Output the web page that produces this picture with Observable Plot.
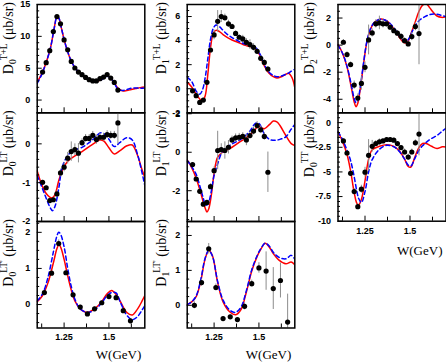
<!DOCTYPE html>
<html><head><meta charset="utf-8">
<script src="https://cdn.jsdelivr.net/npm/d3@7"></script>
<script src="https://cdn.jsdelivr.net/npm/@observablehq/plot@0.6"></script>
<style>
body{margin:0;background:#fff;}
#c{position:relative;width:446px;height:363px;overflow:hidden;background:#fff;}
#c svg{position:absolute;left:0;top:0;overflow:visible;}
</style></head><body><div id="c"></div>
<script>
// ---- data points (W in GeV) ----
const W_pts = [1.13,1.15,1.17,1.19,1.21,1.23,1.25,1.27,1.29,1.31,1.33,1.35,1.37,1.39,1.41,1.43,1.45,1.47,1.49,1.51,1.53,1.55];
const W_ltp0 = [1.14,1.18,1.22,1.26,1.30,1.34,1.38,1.42,1.46,1.50,1.54,1.58,1.62];
const W_ltp1 = [1.14,1.18,1.22,1.26,1.30,1.34,1.38,1.42,1.46,1.50,1.54,1.58,1.62,1.66];

const D0TL_pts = [4.4,5.87,7.75,10.75,13.1,11.96,9.44,7.9,6.07,5.03,4.4,3.98,3.55,3.2,3.0,3.0,3.35,3.6,4.0,3.45,2.77,1.57];
const D0TL_err = [0.1,0.1,0.1,0.1,0.1,0.1,0.1,0.1,0.1,0.1,0.1,0.1,0.1,0.1,0.1,0.1,0.1,0.1,0.1,0.1,0.1,0.1];
const D1TL_pts = [-0.17,-0.58,-1.14,-0.94,0.53,3.22,4.47,5.6,6.0,5.9,5.39,5.17,4.6,4.28,4.14,3.86,3.67,3.44,3.11,2.53,2.19,1.64];
const D1TL_err = [0.1,0.1,0.1,0.1,0.15,0.2,0.4,0.9,0.5,0.3,0.3,0.2,0.2,0.2,0.3,0.3,0.4,0.3,0.2,0.2,0.2,0.2];
const D2TL_pts = [0.21,-0.7,-1.44,-2.95,-3.91,-2.83,-1.64,0.38,0.9,1.57,1.64,1.57,1.57,1.32,1.07,0.88,0.65,0.33,0.09,0.63,1.37,0.85];
const D2TL_err = [0.2,0.2,0.2,0.3,0.3,0.5,0.4,1.1,0.3,0.3,0.5,0.3,0.2,0.2,0.2,0.2,0.2,0.2,0.2,0.3,0.3,2.3];
const D0LT_pts = [-0.99,-1.13,-1.46,-1.44,-1.29,-0.75,-0.6,-0.37,-0.2,-0.15,-0.24,0.03,0.14,0.14,0.22,0.11,0.17,0.17,0.24,0.22,0.22,0.54];
const D0LT_err = [0.05,0.05,0.05,0.05,0.08,0.1,0.12,0.15,0.25,0.15,0.25,0.1,0.1,0.1,0.1,0.12,0.1,0.1,0.1,0.1,0.1,0.55];
const D1LT_pts = [-0.64,-1.39,-2.03,-2.7,-2.61,-1.79,-0.96,0.09,0.14,0.09,0.26,0.64,0.75,0.78,0.82,0.64,0.87,1.1,1.39,1.17,0.82,-1.04];
const D1LT_err = [0.1,0.1,0.1,0.1,0.1,0.15,0.2,1.0,0.3,0.45,0.35,0.2,0.2,0.2,0.2,0.3,0.2,0.2,0.2,0.2,0.2,1.05];
const D0TT_pts = [-1.85,-3.08,-5.14,-6.99,-8.53,-6.75,-5.03,-3.32,-2.4,-2.12,-1.95,-1.85,-1.71,-1.71,-1.78,-2.12,-2.53,-2.98,-3.49,-2.98,-2.05,-1.16];
const D0TT_err = [0.2,0.2,0.2,0.3,0.3,0.4,0.5,1.6,0.6,0.3,0.3,0.2,0.2,0.2,0.2,0.2,0.2,0.3,0.3,0.3,0.3,2.2];
const D0LTp_pts = [0.33,0.87,1.69,0.88,0.27,-0.07,-0.26,-0.12,0.05,0.22,0.19,-0.17,-0.45];
const D0LTp_err = [0.05,0.05,0.1,0.05,0.05,0.05,0.05,0.05,0.05,0.05,0.05,0.05,0.05];
const D1LTp_pts = [0.0,0.65,1.62,0.51,-0.38,-0.33,-0.41,-0.03,0.62,1.07,0.98,0.48,0.71,-0.48];
const D1LTp_err = [0.1,0.1,0.15,0.1,0.05,0.05,0.05,0.1,0.1,0.15,0.55,0.6,0.5,0.8];

// ---- model curves (knots in W, red = solid, blue = dashed) ----
const D0TL_cW = [1.10,1.125,1.15,1.175,1.195,1.21,1.22,1.235,1.25,1.27,1.29,1.31,1.33,1.35,1.375,1.40,1.425,1.45,1.475,1.49,1.505,1.525,1.55,1.575,1.60,1.625,1.65,1.675,1.70];
const D0TL_red = [2.8,4.1,5.9,8.3,11.3,13.1,12.9,11.3,9.5,7.6,6.1,5.1,4.45,3.95,3.45,3.1,2.95,3.1,3.55,3.8,3.6,2.9,1.9,1.45,1.5,1.65,1.8,1.95,2.05];
const D0TL_blue = [2.6,4.0,5.9,8.3,11.3,13.0,12.9,11.3,9.5,7.6,6.1,5.1,4.45,3.95,3.45,3.1,2.95,3.1,3.5,3.75,3.6,2.9,1.75,1.5,1.65,1.85,1.9,1.85,1.9];

const D1TL_cW = [1.10,1.125,1.15,1.17,1.185,1.20,1.215,1.23,1.245,1.26,1.28,1.30,1.325,1.35,1.375,1.40,1.425,1.45,1.475,1.49,1.51,1.53,1.555,1.58,1.60,1.625,1.65,1.665,1.685,1.70];
const D1TL_red = [0.55,0.15,-0.45,-0.85,-1.0,-0.6,1.2,3.4,4.6,4.85,4.75,4.5,4.25,4.05,3.9,3.75,3.6,3.5,3.4,3.2,2.6,1.9,1.3,1.0,0.9,1.0,1.2,1.28,0.9,0.1];
const D1TL_blue = [0.95,0.6,-0.2,-0.45,-0.1,0.9,2.5,4.1,5.0,5.3,5.15,4.85,4.5,4.25,4.05,3.85,3.7,3.6,3.45,3.3,2.75,2.0,1.4,1.1,1.0,1.05,1.2,1.3,1.5,1.6];

const D2TL_cW = [1.10,1.125,1.15,1.175,1.19,1.20,1.21,1.225,1.24,1.26,1.28,1.30,1.32,1.34,1.36,1.38,1.40,1.42,1.44,1.46,1.475,1.49,1.51,1.53,1.55,1.57,1.59,1.61,1.63,1.65,1.675,1.70];
const D2TL_red = [0.05,-0.6,-1.6,-3.2,-4.2,-4.55,-4.3,-3.1,-1.6,0.2,1.15,1.65,1.85,1.92,1.85,1.7,1.4,1.05,0.6,0.25,0.15,0.3,1.0,1.75,2.5,2.95,3.05,2.75,2.4,2.15,2.05,2.1];
const D2TL_blue = [0.0,-0.6,-1.55,-3.0,-3.95,-4.25,-4.05,-3.0,-1.5,0.25,1.2,1.65,1.85,1.92,1.85,1.7,1.45,1.1,0.7,0.35,0.25,0.4,0.95,1.45,1.8,2.0,2.15,2.25,2.3,2.28,2.2,2.1];

const D0LT_cW = [1.10,1.125,1.15,1.17,1.185,1.20,1.22,1.24,1.27,1.30,1.35,1.40,1.43,1.45,1.47,1.50,1.53,1.56,1.60,1.63,1.66,1.68,1.70];
const D0LT_red = [-0.7,-1.05,-1.28,-1.37,-1.39,-1.3,-0.95,-0.68,-0.45,-0.34,-0.2,-0.04,0.05,0.1,0.08,-0.1,-0.26,-0.18,-0.05,-0.03,-0.3,-0.6,-0.86];
const D0LT_blue = [-0.82,-1.1,-1.4,-1.62,-1.72,-1.6,-1.15,-0.6,-0.3,-0.18,-0.09,0.07,0.2,0.28,0.27,0.12,-0.07,0.03,0.16,0.1,-0.28,-0.65,-1.07];

const D1LT_cW = [1.10,1.125,1.15,1.175,1.19,1.20,1.21,1.22,1.235,1.25,1.27,1.30,1.35,1.40,1.45,1.48,1.50,1.53,1.56,1.58,1.60,1.62,1.65,1.68,1.70];
const D1LT_red = [-0.4,-0.8,-1.35,-2.1,-2.6,-2.9,-3.1,-2.95,-2.2,-1.1,-0.25,0.02,0.26,0.58,0.9,1.2,1.34,1.22,1.45,1.62,1.58,1.35,0.87,0.45,0.35];
const D1LT_blue = [-0.43,-0.75,-1.15,-1.9,-2.4,-2.7,-2.75,-2.6,-2.0,-1.2,-0.6,0.1,0.43,0.68,1.1,1.5,1.5,0.95,0.66,0.62,0.63,0.68,0.8,1.2,1.44];

const D0TT_cW = [1.10,1.125,1.15,1.17,1.19,1.205,1.215,1.23,1.25,1.27,1.29,1.33,1.37,1.41,1.44,1.47,1.49,1.505,1.525,1.55,1.57,1.59,1.62,1.65,1.68,1.70];
const D0TT_red = [-0.95,-1.9,-3.2,-4.9,-7.1,-8.2,-8.35,-7.8,-5.9,-3.7,-2.75,-2.4,-2.25,-2.4,-2.85,-3.7,-4.45,-4.5,-3.6,-2.5,-2.12,-2.12,-2.4,-2.62,-2.45,-2.47];
const D0TT_blue = [-0.92,-1.7,-2.8,-3.85,-5.5,-7.0,-7.7,-8.1,-7.0,-5.0,-3.75,-2.7,-2.3,-2.45,-2.9,-3.7,-4.3,-4.4,-3.7,-2.8,-2.35,-2.0,-1.6,-1.3,-0.85,-0.58];

const D0LTp_cW = [1.10,1.13,1.16,1.19,1.21,1.22,1.23,1.25,1.27,1.29,1.31,1.34,1.38,1.42,1.46,1.49,1.515,1.54,1.565,1.60,1.63,1.66,1.685,1.70];
const D0LTp_red = [0.08,0.25,0.6,1.15,1.55,1.65,1.6,1.25,0.8,0.4,0.1,-0.12,-0.22,-0.12,0.08,0.3,0.39,0.28,0.07,-0.22,-0.29,-0.12,0.1,0.25];
const D0LTp_blue = [0.1,0.3,0.75,1.45,1.9,2.0,1.95,1.6,1.0,0.5,0.15,-0.12,-0.22,-0.15,0.05,0.25,0.33,0.32,0.05,-0.3,-0.42,-0.33,-0.15,-0.03];

const D1LTp_cW = [1.10,1.125,1.15,1.175,1.20,1.22,1.24,1.27,1.30,1.34,1.37,1.40,1.43,1.46,1.49,1.51,1.535,1.56,1.58,1.61,1.65,1.68,1.70];
const D1LTp_red = [0.02,0.1,0.25,0.68,1.33,1.57,1.43,0.65,0.1,-0.2,-0.27,-0.12,0.38,0.98,1.4,1.6,1.78,1.65,1.48,1.3,1.19,1.24,1.16];
const D1LTp_blue = [0.02,0.1,0.27,0.72,1.35,1.57,1.42,0.68,0.15,-0.15,-0.2,-0.05,0.42,1.02,1.42,1.62,1.78,1.68,1.52,1.38,1.33,1.43,1.32];

// ---- axis tick labels ----
const xTickLabels = [1.25, 1.5];
const xMinorTicks = [1.125, 1.375, 1.625];

// ---- layout ----
const WIDTH = 446, HEIGHT = 363;
const colL = [36.7, 186.7, 337.5], colR = [144.3, 294.3, 445.5];
const rowT = [4, 112.3, 221], rowB = [112.3, 221, 327.5];
const titleX = [12.5, 165.5, 314];
const xDomain = [1.1, 1.7];

const panels = [
  {col:0,row:0,dom:[-2,15],major:[0,5,10,15],minor:1,sub:"0",sup:"T+L",pW:W_pts,pV:D0TL_pts,pE:D0TL_err,cW:D0TL_cW,red:D0TL_red,blue:D0TL_blue},
  {col:1,row:0,dom:[-2,7],major:[-2,0,2,4,6],minor:0.5,sub:"1",sup:"T+L",pW:W_pts,pV:D1TL_pts,pE:D1TL_err,cW:D1TL_cW,red:D1TL_red,blue:D1TL_blue},
  {col:2,row:0,dom:[-5,3],major:[-4,-2,0,2],minor:0.5,sub:"2",sup:"T+L",pW:W_pts,pV:D2TL_pts,pE:D2TL_err,cW:D2TL_cW,red:D2TL_red,blue:D2TL_blue},
  {col:0,row:1,dom:[-2,0.8],major:[-2,-1,0],minor:0.2,sub:"0",sup:"LT",pW:W_pts,pV:D0LT_pts,pE:D0LT_err,cW:D0LT_cW,red:D0LT_red,blue:D0LT_blue},
  {col:1,row:1,dom:[-3.6,2.05],major:[-2,0,2],minor:0.5,sub:"1",sup:"LT",pW:W_pts,pV:D1LT_pts,pE:D1LT_err,cW:D1LT_cW,red:D1LT_red,blue:D1LT_blue},
  {col:2,row:1,dom:[-10,1],major:[-10,-7.5,-5,-2.5,0],minor:0.5,sub:"0",sup:"TT",pW:W_pts,pV:D0TT_pts,pE:D0TT_err,cW:D0TT_cW,red:D0TT_red,blue:D0TT_blue,xlab:true,bottom:220.7,wy:34},
  {col:0,row:2,dom:[-0.65,2.3],major:[0,1,2],minor:0.25,sub:"0",sup:"LT'",pW:W_ltp0,pV:D0LTp_pts,pE:D0LTp_err,cW:D0LTp_cW,red:D0LTp_red,blue:D0LTp_blue,xlab:true,wy:31},
  {col:1,row:2,dom:[-0.65,2.4],major:[0,1,2],minor:0.25,sub:"1",sup:"LT'",pW:W_ltp1,pV:D1LTp_pts,pE:D1LTp_err,cW:D1LTp_cW,red:D1LTp_red,blue:D1LTp_blue,xlab:true,wy:31}
];

const container = document.getElementById("c");
for (const p of panels) {
  const x0 = colL[p.col], x1 = colR[p.col], y0 = rowT[p.row], y1 = p.bottom ?? rowB[p.row];
  const pxX = (x1 - x0) / (xDomain[1] - xDomain[0]);
  const pxY = (y1 - y0) / (p.dom[1] - p.dom[0]);
  const pts = p.pW.map((w, i) => ({W: w, v: p.pV[i], e: p.pE[i]}));
  const red = p.cW.map((w, i) => ({W: w, v: p.red[i]}));
  const blue = p.cW.map((w, i) => ({W: w, v: p.blue[i]}));
  const minors = d3.range(Math.ceil(p.dom[0] / p.minor - 1e-6), Math.floor(p.dom[1] / p.minor + 1e-6) + 1)
    .map(k => +(k * p.minor).toFixed(4)).filter(v => !p.major.some(m => Math.abs(m - v) < 1e-6));
  const marks = [
    Plot.line(red, {x: "W", y: "v", stroke: "#ff0000", strokeWidth: 1.5, curve: "catmull-rom", clip: true}),
    Plot.line(blue, {x: "W", y: "v", stroke: "#0000ff", strokeWidth: 1.5, strokeDasharray: "4,3", curve: "catmull-rom", clip: true}),
    Plot.ruleX(pts, {x: "W", y1: d => d.v - d.e, y2: d => d.v + d.e, stroke: "#8c8c8c", strokeWidth: 1, clip: true}),
    Plot.dot(pts, {x: "W", y: "v", r: 2.6, fill: "black", clip: true}),
    Plot.ruleY(p.major, {y: d => d, x1: xDomain[0], x2: xDomain[0] + 5 / pxX, stroke: "black", strokeWidth: 1}),
    Plot.ruleY(minors, {y: d => d, x1: xDomain[0], x2: xDomain[0] + 2.5 / pxX, stroke: "black", strokeWidth: 1}),
    Plot.ruleX(xTickLabels, {x: d => d, y1: p.dom[0], y2: p.dom[0] + 5 / pxY, stroke: "black", strokeWidth: 1}),
    Plot.ruleX(xMinorTicks, {x: d => d, y1: p.dom[0], y2: p.dom[0] + 4 / pxY, stroke: "black", strokeWidth: 1}),
    Plot.axisY(p.major, {tickSize: 0, tickPadding: 7, tickFormat: d => String(d), label: null, fontWeight: "bold", fontSize: 9}),
    Plot.frame({stroke: "black", strokeWidth: 1.5})
  ];
  if (p.xlab) marks.push(Plot.axisX(xTickLabels, {tickSize: 0, tickPadding: 6, tickFormat: d => String(d), label: null, fontWeight: "bold", fontSize: 9}));
  const svg = Plot.plot({
    width: WIDTH, height: HEIGHT,
    marginLeft: x0, marginRight: WIDTH - x1, marginTop: y0, marginBottom: HEIGHT - y1,
    x: {domain: xDomain, axis: null},
    y: {domain: p.dom, axis: null},
    style: {background: "none", overflow: "visible", fontFamily: "'Liberation Sans', Arial, sans-serif", fontSize: "9px", color: "black"},
    marks
  });
  const s = d3.select(svg);
  const t = s.append("text")
    .attr("transform", `translate(${titleX[p.col]},${y0 - 2}) rotate(-90)`)
    .attr("text-anchor", "end")
    .attr("fill", "black")
    .style("font-family", "'Liberation Serif','Times New Roman',serif")
    .style("font-size", "14px");
  t.append("tspan").text("D");
  t.append("tspan").attr("font-size", "9.5px").attr("dy", 3).text(p.sub);
  t.append("tspan").attr("font-size", "9.5px").attr("dx", -1).attr("dy", -9).text(p.sup);
  t.append("tspan").attr("dy", 6).text(" (μb/sr)");
  if (p.xlab) {
    s.append("text").attr("x", x1 - 3).attr("y", y1 + p.wy).attr("text-anchor", "end").attr("fill", "black")
      .style("font-family", "'Liberation Serif','Times New Roman',serif").style("font-size", "13px").text("W(GeV)");
  }
  container.appendChild(svg);
}
</script></body></html>
